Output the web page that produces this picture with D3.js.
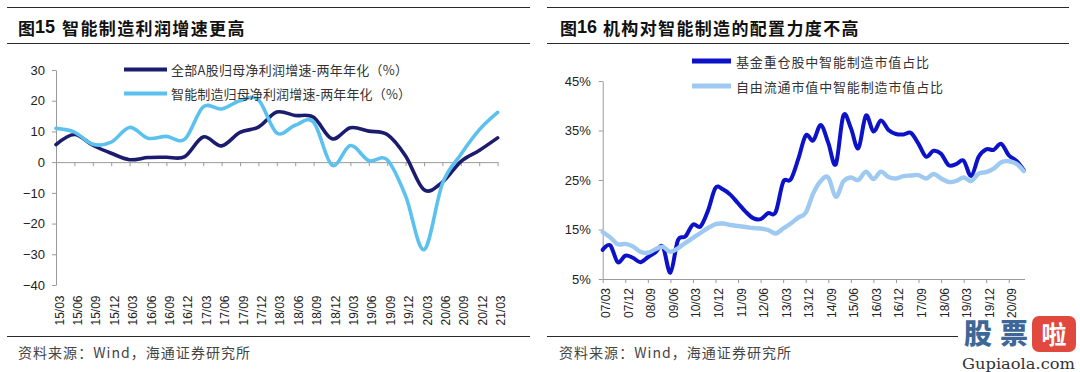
<!DOCTYPE html>
<html><head><meta charset="utf-8">
<script src="https://cdn.jsdelivr.net/npm/d3@7"></script>
<style>body{margin:0;background:#fff}svg{display:block}</style>
</head><body>
<svg id="c" width="1080" height="372"></svg>
<script>
// ---------- Figure 15 data (quarterly, 2-year annualised profit growth, %) ----------
const catsL = ['15/03','15/06','15/09','15/12','16/03','16/06','16/09','16/12','17/03','17/06','17/09','17/12',
  '18/03','18/06','18/09','18/12','19/03','19/06','19/09','19/12','20/03','20/06','20/09','20/12','21/03'];
const allAShare = [5.7, 9.0, 5.5, 2.9, 0.8, 1.5, 1.6, 1.8, 8.2, 5.3, 9.7, 11.4,
  16.3, 15.2, 14.6, 7.6, 11.2, 10.1, 9.0, 2.0, -9.0, -6.5, 0.2, 3.8, 7.9];
const smartMfgProfit = [11.0, 9.8, 5.8, 6.5, 11.3, 7.8, 8.4, 7.5, 18.0, 17.3, 20.0, 20.3,
  9.5, 12.0, 13.0, -1.0, 5.4, 0.5, 0.8, -11.0, -28.5, -7.0, 2.5, 10.5, 16.2];
const yTicksL = [-40, -30, -20, -10, 0, 10, 20, 30];
const seriesNamesL = ['全部A股归母净利润增速-两年年化（%）', '智能制造归母净利润增速-两年年化（%）'];

// ---------- Figure 16 data (quarterly, share of market value, %) ----------
const catsR = ['07/03','07/06','07/09','07/12','08/03','08/06','08/09','08/12','09/03','09/06','09/09','09/12',
  '10/03','10/06','10/09','10/12','11/03','11/06','11/09','11/12','12/03','12/06','12/09','12/12',
  '13/03','13/06','13/09','13/12','14/03','14/06','14/09','14/12','15/03','15/06','15/09','15/12',
  '16/03','16/06','16/09','16/12','17/03','17/06','17/09','17/12','18/03','18/06','18/09','18/12',
  '19/03','19/06','19/09','19/12','20/03','20/06','20/09','20/12','21/03'];
const fundHeavyShare = [10.9, 11.8, 8.4, 9.7, 9.3, 8.4, 9.4, 10.4, 11.5, 6.3, 12.8, 13.6,
  16.0, 15.6, 18.8, 23.4, 23.1, 22.0, 20.3, 18.6, 17.3, 17.1, 18.3, 18.5,
  24.6, 25.1, 29.2, 34.0, 33.0, 36.1, 32.5, 28.2, 38.0, 35.5, 31.4, 38.0,
  34.8, 37.0, 35.1, 34.3, 34.2, 34.5, 32.3, 29.7, 30.9, 30.3, 28.0, 28.2,
  28.9, 25.8, 29.7, 31.2, 31.1, 32.3, 30.0, 28.9, 27.0];
const freeFloatShare = [14.5, 13.4, 12.0, 12.1, 11.6, 10.5, 10.3, 11.0, 11.5, 10.5, 11.2, 12.3,
  13.3, 14.3, 15.3, 16.1, 16.2, 15.9, 15.7, 15.5, 15.3, 15.2, 14.9, 14.2,
  15.2, 16.2, 17.4, 18.4, 22.3, 24.8, 25.5, 21.6, 24.7, 25.5, 25.0, 26.7,
  25.2, 26.7, 25.6, 25.3, 25.8, 25.9, 26.0, 25.3, 26.2, 25.3, 24.6, 24.8,
  25.5, 24.8, 26.3, 26.6, 27.3, 28.6, 28.8, 28.3, 26.8];
const yTicksR = [5, 15, 25, 35, 45];
const xTickLabelsR = ['07/03','07/12','08/09','09/06','10/03','10/12','11/09','12/06','13/03','13/12',
  '14/09','15/06','16/03','16/12','17/09','18/06','19/03','19/12','20/09'];
const seriesNamesR = ['基金重仓股中智能制造市值占比', '自由流通市值中智能制造市值占比'];

const titles = [['图', '15', '智能制造利润增速更高'], ['图', '16', '机构对智能制造的配置力度不高']];
const sourceText = '资料来源：Wind，海通证券研究所';

// ---------- drawing ----------
const svg = d3.select('#c');
const CJK = '"Noto Sans CJK SC","Noto Sans",sans-serif';
const LAT = '"Liberation Sans",Arial,sans-serif';
const AX = '#9a9a9a';

// panel frames: rules, titles, sources
const panels = [
  {x0: 7, x1: 530, tx: 18, numX: 35, restX: 62, restLen: 182.5, srcX: 18},
  {x0: 547, x1: 1069, tx: 560, numX: 577, restX: 603, restLen: 255.5, srcX: 559}
];
panels.forEach((p, k) => {
  [7.5, 43.5, 336.5].forEach(y => svg.append('line')
    .attr('x1', p.x0).attr('x2', p.x1).attr('y1', y).attr('y2', y)
    .attr('stroke', '#2a2a2a').attr('stroke-width', 1.2));
  const t = svg.append('text').attr('y', 27).attr('dominant-baseline', 'central')
    .attr('fill', '#111').attr('font-weight', 700);
  t.append('tspan').attr('x', p.tx).attr('font-family', CJK).attr('font-size', 17).text(titles[k][0]);
  t.append('tspan').attr('x', p.numX).attr('font-family', LAT).attr('font-size', 18).text(titles[k][1]);
  t.append('tspan').attr('x', p.restX).attr('font-family', CJK).attr('font-size', 17)
    .attr('textLength', p.restLen).attr('lengthAdjust', 'spacing').text(titles[k][2]);
  svg.append('text').attr('x', p.srcX).attr('y', 352).attr('dominant-baseline', 'central')
    .attr('font-family', CJK).attr('font-size', 14).attr('fill', '#444')
    .attr('textLength', 232).attr('lengthAdjust', 'spacing').text(sourceText);
});

function styleAxis(g, fs) {
  g.selectAll('path.domain').attr('stroke', AX).attr('stroke-width', 1);
  g.selectAll('.tick line').attr('stroke', AX).attr('stroke-width', 1);
  g.selectAll('.tick text').attr('font-family', LAT).attr('font-size', fs).attr('fill', '#222');
}
function rotLabels(g) {
  g.select('path.domain').remove();
  g.selectAll('.tick line').remove();
  g.selectAll('.tick text').attr('transform', 'rotate(-90)').attr('x', 0).attr('y', 7)
    .attr('dy', 0).attr('text-anchor', 'end');
}

// ===== Left chart =====
const xL = d3.scalePoint().domain(catsL).range([56, 497.6]);
const yL = d3.scaleLinear().domain([-40, 30]).range([285, 70]);

const gyL = svg.append('g').attr('transform', 'translate(56,0)')
  .call(d3.axisLeft(yL).tickValues(yTicksL).tickSize(4).tickSizeOuter(0).tickPadding(7).tickFormat(d3.format('d')));
styleAxis(gyL, 13);
const gxL = svg.append('g').attr('transform', `translate(0,${yL(0)})`)
  .call(d3.axisBottom(xL).tickSize(4).tickSizeOuter(0).tickFormat(''));
styleAxis(gxL, 12);
const glL = svg.append('g').attr('transform', 'translate(0,295.5)')
  .call(d3.axisBottom(xL).tickSize(0).tickPadding(0));
styleAxis(glL, 12); rotLabels(glL);

const colL = ['#1b1c6e', '#5cc1ee'];
const lineL = d3.line().x((d, i) => xL(catsL[i])).y(d => yL(d)).curve(d3.curveCardinal.tension(0));
[allAShare, smartMfgProfit].forEach((s, k) => svg.append('path').attr('d', lineL(s))
  .attr('fill', 'none').attr('stroke', colL[k]).attr('stroke-width', 3.6)
  .attr('stroke-linejoin', 'round').attr('stroke-linecap', 'round'));

// legend left
[[69.5, 237], [93.5, 240]].forEach(([y, len], k) => {
  svg.append('line').attr('x1', 124).attr('x2', 167).attr('y1', y).attr('y2', y)
    .attr('stroke', colL[k]).attr('stroke-width', 4.2);
  svg.append('text').attr('x', 171).attr('y', y).attr('dominant-baseline', 'central')
    .attr('font-family', CJK).attr('font-size', 13).attr('fill', '#333')
    .attr('textLength', len).attr('lengthAdjust', 'spacing').text(seriesNamesL[k]);
});

// ===== Right chart =====
const xR = d3.scalePoint().domain(catsR).range([602.7, 1023.8]);
const yR = d3.scaleLinear().domain([5, 45]).range([279, 81]);

const gyR = svg.append('g').attr('transform', 'translate(602.7,0)')
  .call(d3.axisLeft(yR).tickValues(yTicksR).tickSize(4).tickSizeOuter(0).tickPadding(8).tickFormat(d => d + '%'));
styleAxis(gyR, 13);
const gxR = svg.append('g').attr('transform', `translate(0,${yR(5)})`)
  .call(d3.axisBottom(xR).tickValues(xTickLabelsR).tickSize(4).tickSizeOuter(0).tickFormat(''));
styleAxis(gxR, 12);
gxR.select('path.domain').attr('d', `M602.7,0.5H1025`);
const glR = svg.append('g').attr('transform', 'translate(0,288)')
  .call(d3.axisBottom(xR).tickValues(xTickLabelsR).tickSize(0).tickPadding(0));
styleAxis(glR, 12); rotLabels(glR);

const colR = ['#0b12c8', '#9ec9f0'];
const lineR = d3.line().x((d, i) => xR(catsR[i])).y(d => yR(d)).curve(d3.curveCardinal.tension(0));
[fundHeavyShare, freeFloatShare].forEach((s, k) => svg.append('path').attr('d', lineR(s))
  .attr('fill', 'none').attr('stroke', colR[k]).attr('stroke-width', k ? 4.4 : 4)
  .attr('stroke-linejoin', 'round').attr('stroke-linecap', 'round'));

// legend right
[[61, 193], [86, 207]].forEach(([y, len], k) => {
  svg.append('line').attr('x1', 692).attr('x2', 731).attr('y1', y).attr('y2', y)
    .attr('stroke', colR[k]).attr('stroke-width', 5);
  svg.append('text').attr('x', 736).attr('y', y).attr('dominant-baseline', 'central')
    .attr('font-family', CJK).attr('font-size', 13).attr('fill', '#333')
    .attr('textLength', len).attr('lengthAdjust', 'spacing').text(seriesNamesR[k]);
});

// ===== watermark =====
const wm = svg.append('g');
wm.append('rect').attr('x', 958).attr('y', 319).attr('width', 122).attr('height', 53).attr('fill', '#fff');
wm.append('text').attr('x', 964).attr('y', 332).attr('dominant-baseline', 'central')
  .attr('font-family', CJK).attr('font-weight', 900).attr('font-size', 28).attr('fill', '#3e6797')
  .attr('textLength', 64).attr('lengthAdjust', 'spacing')
  .attr('stroke', '#fff').attr('stroke-width', 2).attr('paint-order', 'stroke').text('股票');
wm.append('rect').attr('x', 1032).attr('y', 316).attr('width', 44).attr('height', 36).attr('rx', 7)
  .attr('fill', '#e2493e');
wm.append('text').attr('x', 1054).attr('y', 333).attr('text-anchor', 'middle').attr('dominant-baseline', 'central')
  .attr('font-family', CJK).attr('font-weight', 700).attr('font-size', 25).attr('fill', '#fff').text('啦');
wm.append('text').attr('x', 962).attr('y', 369).attr('font-family', '"DejaVu Serif","Liberation Serif",serif')
  .attr('font-size', 14).attr('fill', '#333').attr('textLength', 113).attr('lengthAdjust', 'spacingAndGlyphs')
  .text('Gupiaola.com');
</script>
</body></html>
